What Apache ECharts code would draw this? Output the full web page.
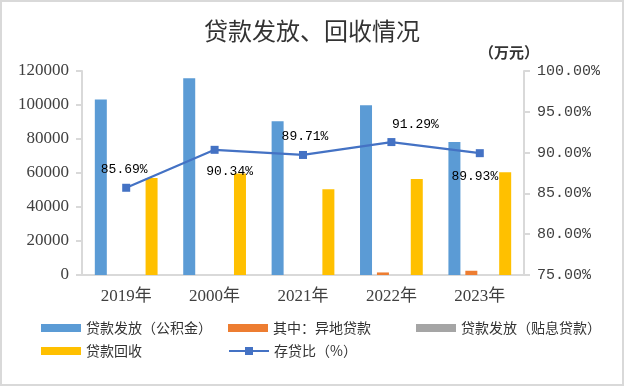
<!DOCTYPE html>
<html>
<head>
<meta charset="utf-8">
<script src="https://cdn.jsdelivr.net/npm/echarts@6/dist/echarts.min.js"></script>
<style>html,body{margin:0;padding:0;background:#fff}#c{width:624px;height:386px}</style>
</head>
<body>
<div id="c"></div>
<script>
const categories = ['2019年', '2000年', '2021年', '2022年', '2023年'];
const loanIssuedFund = [103300, 115700, 90400, 99800, 78300];
const loanRemote = [0, 0, 0, 1500, 2500];
const loanIssuedSubsidy = [0, 0, 0, 0, 0];
const loanRecovered = [57000, 59700, 50500, 56400, 60500];
const depositLoanRatio = [85.69, 90.34, 89.71, 91.29, 89.93];
const leftTicks = { min: 0, max: 120000, interval: 20000 };
const rightTicks = { min: 75, max: 100, interval: 5 };

const seriesNames = ['贷款发放（公积金）', '其中：异地贷款', '贷款发放（贴息贷款）', '贷款回收', '存贷比（%）'];
const colors = ['#5B9BD5', '#ED7D31', '#A5A5A5', '#FFC000', '#4472C4'];
const labelOffsets = [[-2, -18], [15, 22], [2, -18], [24, -18], [-5, 23]];

const chart = echarts.init(document.getElementById('c'), null, { renderer: 'canvas' });
const serifFont = '"Liberation Serif", "Noto Sans CJK SC", serif';
const cjkFont = '"Noto Sans CJK SC", sans-serif';
const monoFont = '"Liberation Mono", "DejaVu Sans Mono", monospace';

const barCommon = { type: 'bar', barWidth: 12, barGap: '41%', barCategoryGap: '29%' };

const legendPos = [[41, 321], [228, 321], [416, 321], [41, 344], [228, 344]];

const option = {
  backgroundColor: '#fff',
  animation: false,
  title: [
    { text: '贷款发放、回收情况', left: 'center', top: 14,
      textStyle: { fontFamily: cjkFont, fontSize: 24, fontWeight: 'normal', color: '#333' } },
    { text: '（万元）', left: 474, top: 40,
      textStyle: { fontFamily: cjkFont, fontSize: 15, fontWeight: 'bold', color: '#333' } }
  ],
  graphic: [{ type: 'rect', shape: { x: 1, y: 1, width: 622, height: 384 }, style: { fill: 'none', stroke: '#d9d9d9', lineWidth: 2 }, silent: true }],
  legend: seriesNames.map((n, i) => ({
    data: [n], left: legendPos[i][0], top: legendPos[i][1], padding: 0,
    itemWidth: 40, itemHeight: i === 4 ? 10 : 8, itemGap: 4,
    icon: i === 4 ? undefined : 'rect',
    textStyle: { fontFamily: cjkFont, fontSize: 14, color: '#333', padding: [0, 0, 0, 0] }
  })),
  grid: { left: 82, right: 100, top: 71, bottom: 111, containLabel: false },
  xAxis: {
    type: 'category', data: categories,
    axisLine: { lineStyle: { color: '#d9d9d9', width: 2 } },
    axisTick: { length: 6, lineStyle: { color: '#d9d9d9', width: 2 } },
    axisLabel: { margin: 13, fontFamily: serifFont, fontSize: 17, color: '#404040' }
  },
  yAxis: [
    { type: 'value', min: leftTicks.min, max: leftTicks.max, interval: leftTicks.interval,
      axisLine: { show: true, lineStyle: { color: '#d9d9d9', width: 2 } },
      axisTick: { show: true, length: 6, lineStyle: { color: '#d9d9d9', width: 2 } },
      splitLine: { show: false },
      axisLabel: { margin: 13, fontFamily: serifFont, fontSize: 17, color: '#404040',
        formatter: v => String(v) } },
    { type: 'value', min: rightTicks.min, max: rightTicks.max, interval: rightTicks.interval, position: 'right',
      axisLine: { show: true, lineStyle: { color: '#d9d9d9', width: 2 } },
      axisTick: { show: true, length: 6, lineStyle: { color: '#d9d9d9', width: 2 } },
      splitLine: { show: false },
      axisLabel: { margin: 13, fontFamily: monoFont, fontSize: 15, color: '#404040',
        formatter: v => v.toFixed(2) + '%' } }
  ],
  series: [
    Object.assign({}, barCommon, { name: seriesNames[0], data: loanIssuedFund, itemStyle: { color: colors[0] } }),
    Object.assign({}, barCommon, { name: seriesNames[1], data: loanRemote, itemStyle: { color: colors[1] } }),
    Object.assign({}, barCommon, { name: seriesNames[2], data: loanIssuedSubsidy, itemStyle: { color: colors[2] } }),
    Object.assign({}, barCommon, { name: seriesNames[3], data: loanRecovered, itemStyle: { color: colors[3] } }),
    {
      type: 'line', name: seriesNames[4], yAxisIndex: 1,
      data: depositLoanRatio.map((v, i) => ({
        value: v,
        label: { offset: labelOffsets[i] }
      })),
      symbol: 'rect', symbolSize: 8, z: 5,
      lineStyle: { color: colors[4], width: 2.25 },
      itemStyle: { color: colors[4] },
      label: { show: true, position: 'inside', fontFamily: monoFont, fontSize: 13, color: '#000',
        formatter: p => p.value.toFixed(2) + '%' }
    }
  ]
};
chart.setOption(option);
</script>
</body>
</html>
